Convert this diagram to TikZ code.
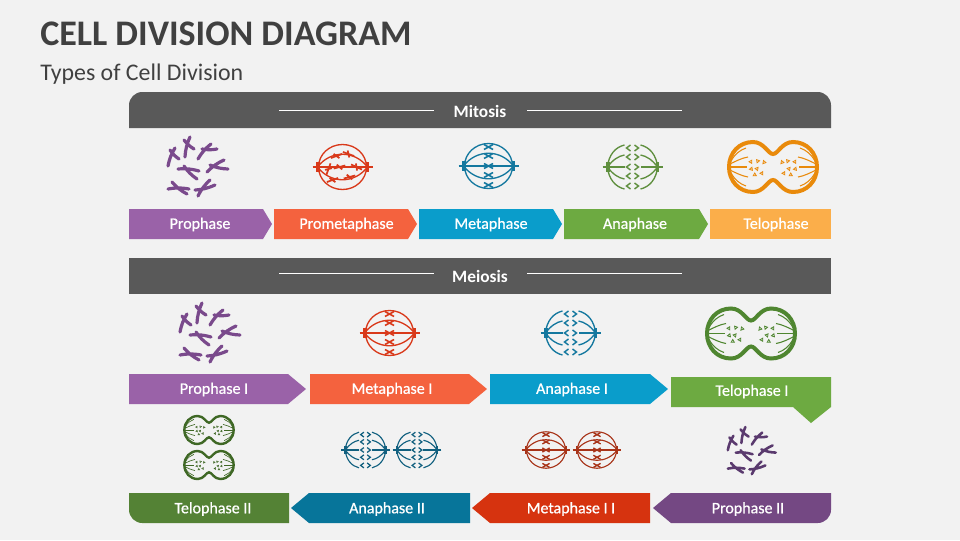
\documentclass[tikz,border=0pt]{standalone}
\usepackage{fontspec}
\setmainfont{Carlito}
\newfontfamily\stagefont[FakeBold=0.7]{Carlito}
\definecolor{pagebg}{HTML}{F2F2F2}
\definecolor{headgray}{HTML}{595959}
\definecolor{titlegray}{HTML}{404040}
\definecolor{barprophase}{HTML}{9A62A8}
\definecolor{barprometa}{HTML}{F4623E}
\definecolor{barmeta}{HTML}{0A9DCB}
\definecolor{barana}{HTML}{6DAA41}
\definecolor{bartelo}{HTML}{FBAE4A}
\definecolor{bartelotwo}{HTML}{548235}
\definecolor{baranatwo}{HTML}{07759A}
\definecolor{barmetatwo}{HTML}{D6330F}
\definecolor{barprotwo}{HTML}{744883}
\definecolor{iconprophase}{HTML}{7A4A8C}
\definecolor{iconprometa}{HTML}{D9391A}
\definecolor{iconmeta}{HTML}{14789F}
\definecolor{iconana}{HTML}{5F8F3E}
\definecolor{icontelo}{HTML}{E98A0B}
\definecolor{icontelone}{HTML}{4F8630}
\definecolor{icontelotwo}{HTML}{3F6825}
\definecolor{iconanatwo}{HTML}{11607F}
\definecolor{iconmetatwo}{HTML}{A83419}
\definecolor{iconprotwo}{HTML}{5A3A6E}
\tikzset{
  chromset/.pic={
    \foreach \ax/\ay/\bx/\by/\cx/\cy/\dx/\dy in {
      -29/-1/-22/-19/-27/-17/-18/-8, -12/-10/-7/-30/-13/-27/-3/-18,
      1/-8/14/-23/5/-18/20/-18, 10/5/27/-7/13/-2/31/2,
      -19/2/2/4/-13/-1/0/12, -29/22/-8/22/-25/15/-10/27,
      1/29/13/13/-2/23/18/18}{
      \draw[line cap=round, line width=#1*2.4pt] (\ax,\ay) to[bend left=10] (\bx,\by)
        (\cx,\cy) to[bend right=10] (\dx,\dy);
    }
  },
  spindle/.pic={
    \draw[line width=#1*1pt] (0,0) circle[x radius=24, y radius=22.5];
    \draw[line width=#1*1pt] (-25,0) .. controls (-12,-17) and (12,-17) .. (25,0)
      .. controls (12,17) and (-12,17) .. (-25,0);
    \draw[line width=#1*1.4pt] (-30,0) -- (30,0);
    \fill (-26.5,-5) rectangle (-23,5);
    \fill (23,-5) rectangle (26.5,5);
  },
  promarks/.pic={
    \foreach \mx/\my/\mr in {-6/-11/20, 6/-13/-20, -14/2/70, -3/0/15, 14/0/-25, -10/13/20, 7/10/15}{
      \draw[line width=1.3pt, rotate around={\mr:(\mx,\my)}]
        (\mx-6,\my) -- (\mx+6,\my) (\mx-2,\my-3) -- (\mx+2,\my+3);
    }
  },
  metamarks/.pic={
    \foreach \my in {-19,-10,0,9,19}{
      \draw[line width=#1*1.2pt] (-4.5,\my-2.5) -- (4.5,\my+2.5) (-4.5,\my+2.5) -- (4.5,\my-2.5);
    }
  },
  anaspindle/.pic={
    \foreach \s in {-1,1}{
      \draw[line width=#1*1pt] (\s*25,0) .. controls (\s*24,-12) and (\s*17,-20) .. (\s*8,-22);
      \draw[line width=#1*1pt] (\s*25,0) .. controls (\s*24,12) and (\s*17,20) .. (\s*8,22);
      \draw[line width=#1*1pt] (\s*25,0) .. controls (\s*20,-7) and (\s*14,-11) .. (\s*8,-12);
      \draw[line width=#1*1pt] (\s*25,0) .. controls (\s*20,7) and (\s*14,11) .. (\s*8,12);
      \draw[line width=#1*1.4pt] (\s*30,0) -- (\s*8,0);
      \fill (\s*26.5,-5) rectangle (\s*23,5);
      \foreach \my in {-19,-10,0,9,19}{
        \draw[line width=#1*1.1pt] (\s*2,\my-3) -- (\s*6,\my) -- (\s*2,\my+3);
      }
    }
  },
  telocell/.pic={
    \draw[line width=#1*3pt] (0,-13) .. controls (5,-13) and (9,-25) .. (20,-25)
      .. controls (34,-25) and (44,-14) .. (44,0)
      .. controls (44,14) and (34,25) .. (20,25)
      .. controls (9,25) and (5,13) .. (0,13)
      .. controls (-5,13) and (-9,25) .. (-20,25)
      .. controls (-34,25) and (-44,14) .. (-44,0)
      .. controls (-44,-14) and (-34,-25) .. (-20,-25)
      .. controls (-9,-25) and (-5,-13) .. (0,-13) -- cycle;
    \foreach \s in {-1,1}{
      \foreach \t in {-1,1}{
        \draw[line width=#1*0.8pt] (\s*42,\t*6) .. controls (\s*38,\t*13) and (\s*33,\t*17) .. (\s*27,\t*19);
        \draw[line width=#1*0.8pt] (\s*43,\t*3) .. controls (\s*37,\t*6) and (\s*31,\t*9) .. (\s*25,\t*10);
      }
      \draw[line width=#1*0.8pt] (\s*42,0) -- (\s*26,0);
      \foreach \mx/\my/\mr in {22/-5/30, 15/-6/100, 9/-5/200, 22/2/280, 16/2/20, 11/6/150, 18/8/60}{
        \draw[line width=#1*0.6pt, rotate around={\mr:(\s*\mx,\my)}] (\s*\mx-1.6,\my-1.2) -- (\s*\mx+1.6,\my-1.2) -- (\s*\mx,\my+1.6) -- cycle;
      }
    }
  }
}
\begin{document}
\begin{tikzpicture}[x=0.75pt, y=-0.75pt]
  \tikzstyle{stagelabel}=[text=white, font=\stagefont\fontsize{12}{14}\selectfont, inner sep=0pt]
  \tikzstyle{headlabel}=[text=white, font=\bfseries\fontsize{13}{15}\selectfont, inner sep=0pt]
  \tikzstyle{headrule}=[draw=white, line width=0.6pt]
  \fill[pagebg] (0,0) rectangle (960,540);
  \useasboundingbox (0,0) rectangle (960,540);
  \node[text=titlegray, font=\bfseries\fontsize{27}{30}\selectfont, anchor=west, inner sep=0pt] (title) at (40,34) {CELL DIVISION DIAGRAM};
  \node[text=titlegray, font=\fontsize{17.9}{21}\selectfont, anchor=west, inner sep=0pt] (subtitle) at (40,74) {Types of Cell Division};
  % mitosis
  \fill[headgray] (129,128) [rounded corners=10pt] -- (129,92) -- (831,92) [sharp corners] -- (831,128) -- cycle;
  \node[headlabel] (mitosis) at (480,111) {Mitosis};
  \draw[headrule] (279,110.5) -- (434,110.5);
  \draw[headrule] (527,110.5) -- (682,110.5);
  \pic[iconprophase] (prophaseicon) at (197,167) {chromset=1};
  \pic[iconprometa] (prometaicon) at (342.5,167) {spindle=1};
  \pic[iconprometa] (prometamarks) at (342.5,167) {promarks};
  \pic[iconmeta] (metaicon) at (488.5,166) {spindle=1};
  \pic[iconmeta] (metamarks) at (488.5,166) {metamarks=1};
  \pic[iconana] (anaicon) at (632.5,167) {anaspindle=1};
  \pic[icontelo] (teloicon) at (773,167) {telocell=1};
  \fill[barprophase] (129,209) -- (263,209) -- (272,224) -- (263,239) -- (129,239) -- cycle;
  \fill[barprometa] (274,209) -- (408,209) -- (417,224) -- (408,239) -- (274,239) -- cycle;
  \fill[barmeta] (419,209) -- (553,209) -- (562,224) -- (553,239) -- (419,239) -- cycle;
  \fill[barana] (564,209) -- (699,209) -- (708,224) -- (699,239) -- (564,239) -- cycle;
  \fill[bartelo] (710,209) rectangle (831,239);
  \node[stagelabel] (prophase) at (200,224.5) {Prophase};
  \node[stagelabel] (prometa) at (346.5,224.5) {Prometaphase};
  \node[stagelabel] (meta) at (491,224.5) {Metaphase};
  \node[stagelabel] (ana) at (635,224.5) {Anaphase};
  \node[stagelabel] (telo) at (776,224.5) {Telophase};
  % meiosis
  \fill[headgray] (129,258) rectangle (831,294);
  \node[headlabel] (meiosis) at (480,276) {Meiosis};
  \draw[headrule] (279,273) -- (434,273);
  \draw[headrule] (527,273) -- (682,273);
  \pic[iconprophase] (prophaseoneicon) at (209,333) {chromset=1};
  \pic[iconprometa] (metaoneicon) at (389.5,333) {spindle=1};
  \pic[iconprometa] (metaonemarks) at (389.5,333) {metamarks=1};
  \pic[iconmeta] (anaoneicon) at (570.5,333) {anaspindle=1};
  \pic[icontelone] (teloneicon) at (751,333.5) {telocell=1};
  \fill[barprophase] (129,374) -- (288,374) -- (306,389) -- (288,404) -- (129,404) -- cycle;
  \fill[barprometa] (310,374) -- (469,374) -- (487,389) -- (469,404) -- (310,404) -- cycle;
  \fill[barmeta] (490,374) -- (650,374) -- (668,389) -- (650,404) -- (490,404) -- cycle;
  \fill[barana] (671,377) -- (831,377) -- (831,407) -- (811,423) -- (793,407) -- (671,407) -- cycle;
  \node[stagelabel] (prophaseone) at (214,389.5) {Prophase I};
  \node[stagelabel] (metaone) at (392,389.5) {Metaphase I};
  \node[stagelabel] (anaone) at (572,389.5) {Anaphase I};
  \node[stagelabel] (teloone) at (752,391.5) {Telophase I};
  \pic[icontelotwo, scale=0.56] (telotwoicona) at (209,430) {telocell=0.6};
  \pic[icontelotwo, scale=0.56] (telotwoiconb) at (209,465) {telocell=0.6};
  \pic[iconanatwo, scale=0.81] (anatwoicona) at (365.5,450) {anaspindle=0.85};
  \pic[iconanatwo, scale=0.81] (anatwoiconb) at (417,450) {anaspindle=0.85};
  \pic[iconmetatwo, scale=0.81] (metatwoicona) at (546,450) {spindle=0.85};
  \pic[iconmetatwo, scale=0.81] (metatwomarksa) at (546,450) {metamarks=0.85};
  \pic[iconmetatwo, scale=0.81] (metatwoiconb) at (597,450) {spindle=0.85};
  \pic[iconmetatwo, scale=0.81] (metatwomarksb) at (597,450) {metamarks=0.85};
  \pic[iconprotwo, scale=0.8] (protwoicon) at (751,451) {chromset=0.8};
  \fill[bartelotwo] (129,493) -- (289,493) -- (289,523) [rounded corners=10pt] -- (129,523) [sharp corners] -- cycle;
  \fill[baranatwo] (470,493) -- (309,493) -- (291,508) -- (309,523) -- (470,523) -- cycle;
  \fill[barmetatwo] (650,493) -- (490,493) -- (472,508) -- (490,523) -- (650,523) -- cycle;
  \fill[barprotwo] (653,508) -- (671,493) -- (831,493) [rounded corners=10pt] -- (831,523) [sharp corners] -- (671,523) -- cycle;
  \node[stagelabel] (telotwo) at (213,509) {Telophase II};
  \node[stagelabel] (anatwo) at (387,509) {Anaphase II};
  \node[stagelabel] (metatwo) at (571,509) {Metaphase I I};
  \node[stagelabel] (protwo) at (748,509) {Prophase II};
\end{tikzpicture}
\end{document}
